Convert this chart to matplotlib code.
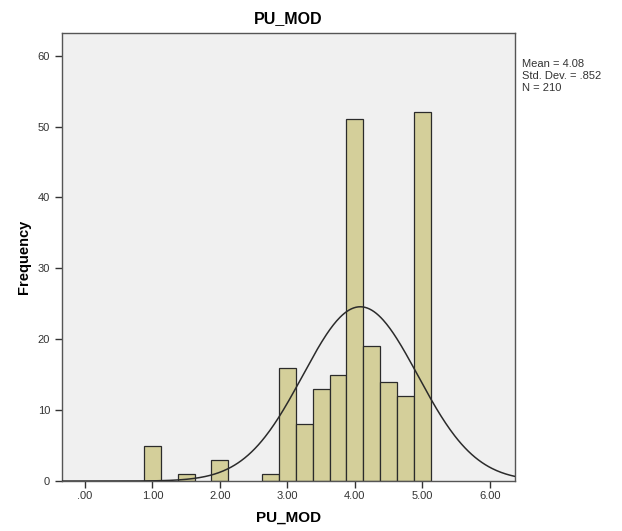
import numpy as np
import matplotlib
matplotlib.use("Agg")
import matplotlib.pyplot as plt

plt.rcParams['font.family'] = ['Liberation Sans', 'DejaVu Sans']

# histogram bins (centres) and counts
bin_centers = [1.0, 1.5, 2.0, 2.75, 3.0, 3.25, 3.5, 3.75, 4.0, 4.25, 4.5, 4.75, 5.0]
counts = [5, 1, 3, 1, 16, 8, 13, 15, 51, 19, 14, 12, 52]
bin_width = 0.25

mean = 4.08
std_dev = 0.852
n_total = 210

x_ticks = [0, 1, 2, 3, 4, 5, 6]
x_tick_labels = ['.00', '1.00', '2.00', '3.00', '4.00', '5.00', '6.00']
y_ticks = [0, 10, 20, 30, 40, 50, 60]

fig = plt.figure(figsize=(6.22, 5.31), dpi=100)
ax = fig.add_axes([0.0997, 0.094, 0.728, 0.844])
ax.set_facecolor('#f0f0f0')

ax.bar(bin_centers, counts, width=bin_width, color='#d4cf9a',
       edgecolor='#2b2b2b', linewidth=0.9, zorder=2)

# normal curve scaled to counts
xs = np.linspace(-0.34, 6.37, 400)
ys = n_total * bin_width / (std_dev * np.sqrt(2 * np.pi)) * np.exp(-0.5 * ((xs - mean) / std_dev) ** 2)
ax.plot(xs, ys, color='#2b2b2b', linewidth=1.1, zorder=3)

ax.set_xlim(-0.34, 6.37)
ax.set_ylim(0, 63.2)
ax.set_xticks(x_ticks)
ax.set_xticklabels(x_tick_labels)
ax.set_yticks(y_ticks)
ax.tick_params(direction='out', length=5, width=1, labelsize=8, colors='#333333')
ax.tick_params(axis='x', pad=2)
for s in ax.spines.values():
    s.set_color('#555555')
    s.set_linewidth(1)

ax.set_title('PU_MOD', fontsize=11.5, fontweight='bold', pad=7)
ax.set_xlabel('PU_MOD', fontsize=11, fontweight='bold', labelpad=7)
ax.set_ylabel('Frequency', fontsize=10.5, fontweight='bold', labelpad=5)

fig.text(0.839, 0.888,
         'Mean = %.2f\nStd. Dev. = .%d\nN = %d' % (mean, round(std_dev * 1000), n_total),
         fontsize=8, va='top', ha='left', color='#333333', linespacing=1.2)

fig.savefig('out.png', dpi=100, facecolor='white')
